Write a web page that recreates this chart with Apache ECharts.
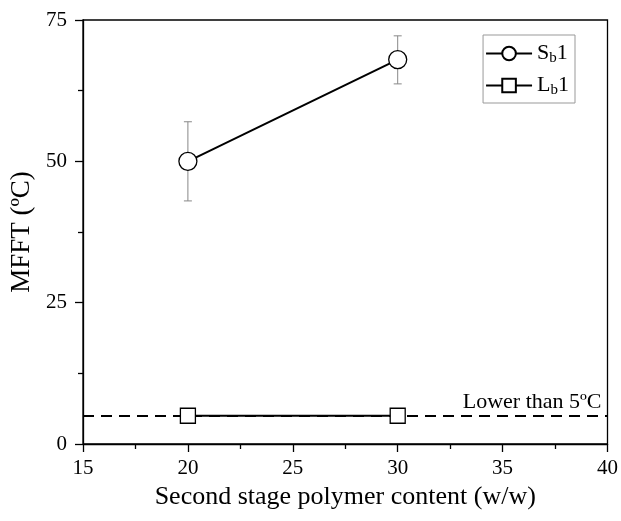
<!DOCTYPE html>
<html><head><meta charset="utf-8">
<script src="https://cdn.jsdelivr.net/npm/echarts@6/dist/echarts.min.js"></script>
<style>html,body{margin:0;padding:0;background:#fff}#c{width:621px;height:521px}</style>
</head><body><div id="c"></div>
<script>
const xValues = [20, 30];
const sb1 = [50, 68];
const sb1Low = [43, 63.7];
const sb1High = [57, 72.2];
const lb1 = [5, 5];
const lowerLimit = 5;
const xTicks = {min: 15, max: 40, interval: 5};
const yTicks = {min: 0, max: 75, interval: 25};

const F = 'Liberation Serif';
const chart = echarts.init(document.getElementById('c'));
const errData = xValues.map((x, i) => [x, sb1Low[i], sb1High[i]]);
chart.setOption({
  animation: false,
  grid: {left: 83, right: 13, top: 20, bottom: 77, show: true, borderColor: '#000', borderWidth: 1.3, backgroundColor: 'transparent'},
  xAxis: {
    type: 'value', min: xTicks.min, max: xTicks.max, interval: xTicks.interval,
    name: 'Second stage polymer content (w/w)', nameLocation: 'middle', nameGap: 38,
    nameTextStyle: {fontFamily: F, fontSize: 26, color: '#000', verticalAlign: 'top'},
    axisLine: {lineStyle: {color: '#000', width: 1.3}},
    axisTick: {length: 8, lineStyle: {color: '#000', width: 1.3}},
    minorTick: {show: true, splitNumber: 2, length: 5, lineStyle: {color: '#000', width: 1.3}},
    axisLabel: {fontFamily: F, fontSize: 21, color: '#000', margin: 14},
    splitLine: {show: false}
  },
  yAxis: {
    type: 'value', min: yTicks.min, max: yTicks.max, interval: yTicks.interval,
    name: 'MFFT (ºC)', nameLocation: 'middle', nameGap: 41, nameRotate: 90,
    nameTextStyle: {fontFamily: F, fontSize: 27, color: '#000'},
    axisLine: {lineStyle: {color: '#000', width: 1.3}},
    axisTick: {length: 8, lineStyle: {color: '#000', width: 1.3}},
    minorTick: {show: true, splitNumber: 2, length: 5, lineStyle: {color: '#000', width: 1.3}},
    axisLabel: {fontFamily: F, fontSize: 21, color: '#000', margin: 16},
    splitLine: {show: false}
  },
  legend: {
    right: 46, top: 35, orient: 'vertical', itemWidth: 46, itemHeight: 17, itemGap: 7,
    borderColor: '#999', borderWidth: 1, padding: [6, 6, 5, 2],
    data: ['S1', 'L1'],
    formatter: n => n === 'S1' ? '{n|S}{s|b}{n|1}' : '{n|L}{s|b}{n|1}',
    textStyle: {
      fontFamily: F, color: '#000', fontSize: 21,
      rich: {
        n: {fontFamily: F, fontSize: 22, color: '#000', lineHeight: 24},
        s: {fontFamily: F, fontSize: 15, color: '#000', lineHeight: 24, padding: [10, 0, 0, 0]}
      }
    }
  },
  series: [
    {
      type: 'custom', name: 'err', z: 1, silent: true,
      renderItem: (params, api) => {
        const x = api.value(0);
        const lo = api.coord([x, api.value(1)]);
        const hi = api.coord([x, api.value(2)]);
        const st = {stroke: '#888', lineWidth: 1};
        return {type: 'group', children: [
          {type: 'line', shape: {x1: lo[0], y1: lo[1], x2: hi[0], y2: hi[1]}, style: st},
          {type: 'line', shape: {x1: lo[0] - 4, y1: lo[1], x2: lo[0] + 4, y2: lo[1]}, style: st},
          {type: 'line', shape: {x1: hi[0] - 4, y1: hi[1], x2: hi[0] + 4, y2: hi[1]}, style: st}
        ]};
      },
      data: errData
    },
    {
      type: 'line', name: 'S1', z: 3,
      data: xValues.map((x, i) => [x, sb1[i]]),
      symbol: 'circle', symbolSize: 18,
      lineStyle: {color: '#000', width: 2},
      itemStyle: {color: '#fff', borderColor: '#000', borderWidth: 1.3}
    },
    {
      type: 'line', name: 'L1', z: 3,
      data: xValues.map((x, i) => [x, lb1[i]]),
      symbol: 'rect', symbolSize: 15,
      lineStyle: {color: '#000', width: 1.8},
      itemStyle: {color: '#fff', borderColor: '#000', borderWidth: 1.3},
      markLine: {
        silent: true, symbol: 'none', z: 2,
        lineStyle: {color: '#000', type: [11, 7], width: 2},
        label: {show: true, position: 'insideEndTop', formatter: 'Lower than 5ºC', fontFamily: F, fontSize: 22, color: '#000', distance: [6, 3]},
        data: [{yAxis: lowerLimit}]
      }
    }
  ]
});
</script></body></html>
